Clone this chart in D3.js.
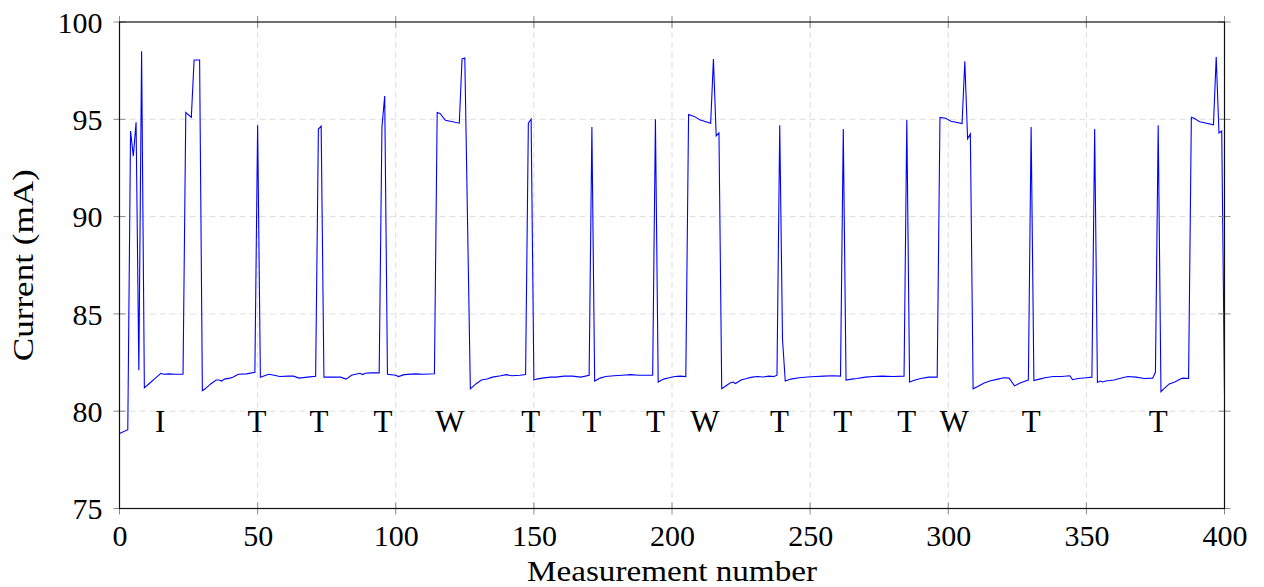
<!DOCTYPE html>
<html>
<head>
<meta charset="utf-8">
<script src="https://cdn.jsdelivr.net/npm/d3@7"></script>
<style>
  html, body { margin: 0; padding: 0; background: #fff; }
  svg { display: block; }
  text { font-family: "Liberation Serif", "Times New Roman", serif; fill: #000; }
</style>
</head>
<body>
<svg id="chart" width="1264" height="587"></svg>
<script>
// ---- Data ----
const measurementNumber = [0,3,4,5,6,7,8,9,11,13,15,16,18,20,23,24,26,27,29,30,31,33,35,36,37,38,40,41,43,46,49,50,51,52,54,56,58,61,63,65,68,71,72,73,74,77,80,82,84,87,88,89,91,94,95,96,97,100,101,103,107,110,114,115,116,118,123,124,125,127,129,131,133,135,138,140,142,145,147,148,149,150,151,153,156,158,161,164,167,170,171,172,174,176,179,182,185,188,193,194,195,197,199,201,203,205,206,208,210,214,215,216,217,218,220,221,222,223,225,227,229,231,233,235,237,238,239,240,241,243,246,249,252,255,258,261,262,263,265,267,270,273,276,280,284,285,286,288,290,293,296,297,299,301,305,306,307,308,309,311,313,315,318,320,322,324,326,328,329,330,331,333,335,338,341,344,345,347,350,352,353,354,355,356,357,360,362,365,368,371,374,375,376,377,378,380,382,384,385,387,388,389,391,396,397,398,399,400];
const currentMA = [78.85,79.05,94.4,93.1,94.85,82.1,98.5,81.2,81.45,81.7,81.95,81.9,81.92,81.9,81.9,95.35,95.1,98.05,98.05,81.05,81.15,81.4,81.6,81.6,81.55,81.65,81.7,81.75,81.9,81.92,82.0,94.7,81.75,81.8,81.9,81.85,81.78,81.8,81.8,81.7,81.75,81.8,94.5,94.65,81.75,81.75,81.75,81.65,81.85,81.95,81.88,81.95,81.97,81.97,94.6,96.2,81.9,81.85,81.78,81.88,81.92,81.9,81.92,95.35,95.3,94.95,94.8,98.1,98.15,81.15,81.4,81.6,81.65,81.75,81.82,81.88,81.82,81.85,81.88,94.8,95.0,81.6,81.65,81.7,81.75,81.75,81.8,81.8,81.75,81.85,94.6,81.55,81.7,81.78,81.82,81.85,81.88,81.85,81.85,95.0,81.5,81.65,81.72,81.78,81.8,81.78,95.25,95.15,94.98,94.8,98.1,94.15,94.3,81.15,81.35,81.45,81.5,81.42,81.6,81.68,81.75,81.78,81.76,81.8,81.78,81.85,94.7,83.7,81.55,81.65,81.72,81.76,81.78,81.8,81.82,81.8,94.5,81.6,81.65,81.68,81.75,81.78,81.8,81.78,81.8,94.98,81.5,81.6,81.68,81.75,81.75,95.1,95.05,94.9,94.78,97.98,94.0,94.25,81.15,81.3,81.45,81.55,81.65,81.72,81.7,81.3,81.45,81.55,81.6,94.6,81.58,81.65,81.72,81.78,81.78,81.82,81.62,81.68,81.72,81.75,94.5,81.48,81.55,81.5,81.55,81.6,81.68,81.78,81.75,81.68,81.7,82.0,94.7,81.0,81.15,81.4,81.5,81.65,81.7,81.68,95.1,95.05,94.87,94.72,98.2,94.3,94.4,80.9];

const eventLabels = ["I","T","T","T","W","T","T","T","W","T","T","T","W","T","T"];
const eventPositions = [14.7,49.8,72.2,95.4,119.6,148.9,170.9,194,211.9,238.9,261.8,285,302.1,330,376];
const eventLevel = 78.95;

const xTicks = [0,50,100,150,200,250,300,350,400];
const yTicks = [75,80,85,90,95,100];
const xTitle = "Measurement number";
const yTitle = "Current (mA)";

// ---- Layout ----
const svg = d3.select("#chart");
const L = 119.5, R = 1224.5, T = 22, B = 508.5;
const x = d3.scaleLinear().domain([0, 400]).range([L, R]);
const y = d3.scaleLinear().domain([75, 100]).range([B, T]);

// Grid
const grid = svg.append("g");
grid.selectAll("line.gx").data(xTicks.slice(1, -1)).join("line")
  .attr("x1", d => x(d)).attr("x2", d => x(d)).attr("y1", T).attr("y2", B)
  .attr("stroke", "#dedede").attr("stroke-width", 1).attr("stroke-dasharray", "6,4");
grid.selectAll("line.gy").data(yTicks.slice(1, -1)).join("line")
  .attr("x1", L).attr("x2", R).attr("y1", d => y(d)).attr("y2", d => y(d))
  .attr("stroke", "#dedede").attr("stroke-width", 1).attr("stroke-dasharray", "6,4");

// Line
const pts = measurementNumber.map((m, i) => [m, currentMA[i]]);
const line = d3.line().x(d => x(d[0])).y(d => y(d[1]));
svg.append("path").datum(pts).attr("d", line)
  .attr("fill", "none").attr("stroke", "#0000ff").attr("stroke-width", 1.1)
  .attr("stroke-linejoin", "miter");

// Event labels
svg.append("g").selectAll("text").data(eventLabels).join("text")
  .attr("x", (d, i) => x(eventPositions[i]))
  .attr("y", y(eventLevel))
  .attr("text-anchor", "middle")
  .attr("font-size", 31)
  .text(d => d);

// Axes
const tickLen = 6;
const xAxisB = d3.axisBottom(x).tickValues(xTicks).tickSize(0).tickFormat(d3.format("d"));
const gxb = svg.append("g").attr("transform", `translate(0,${B})`).call(xAxisB);
gxb.select(".domain").remove();
gxb.selectAll("text").attr("font-size", 30).attr("dy", 0).attr("y", 37)
  .style("font-family", "Liberation Serif, serif");

const yAxisL = d3.axisLeft(y).tickValues(yTicks).tickSize(0).tickFormat(d3.format("d"));
const gyl = svg.append("g").attr("transform", `translate(${L},0)`).call(yAxisL);
gyl.select(".domain").remove();
gyl.selectAll("text").attr("font-size", 30).attr("x", -17).attr("dy", "0.34em")
  .style("font-family", "Liberation Serif, serif");

// tick marks on all four sides
const tk = svg.append("g").attr("stroke", "#8a8a8a").attr("stroke-width", 1);
xTicks.forEach(v => {
  tk.append("line").attr("x1", x(v)).attr("x2", x(v)).attr("y1", B - tickLen).attr("y2", B + tickLen);
  tk.append("line").attr("x1", x(v)).attr("x2", x(v)).attr("y1", T - tickLen).attr("y2", T + tickLen);
});
yTicks.forEach(v => {
  tk.append("line").attr("y1", y(v)).attr("y2", y(v)).attr("x1", L - tickLen).attr("x2", L + tickLen);
  tk.append("line").attr("y1", y(v)).attr("y2", y(v)).attr("x1", R - tickLen).attr("x2", R + tickLen);
});

// Frame
svg.append("rect").attr("x", L).attr("y", T).attr("width", R - L).attr("height", B - T)
  .attr("fill", "none").attr("stroke", "#111").attr("stroke-width", 1.2);

// Axis titles
svg.append("text").attr("x", (L + R) / 2).attr("y", 581)
  .attr("text-anchor", "middle").attr("font-size", 30)
  .attr("textLength", 290).attr("lengthAdjust", "spacingAndGlyphs")
  .text(xTitle);
svg.append("text")
  .attr("transform", `translate(33,${(T + B) / 2}) rotate(-90)`)
  .attr("text-anchor", "middle").attr("font-size", 30)
  .attr("textLength", 192).attr("lengthAdjust", "spacingAndGlyphs")
  .text(yTitle);
</script>
</body>
</html>
